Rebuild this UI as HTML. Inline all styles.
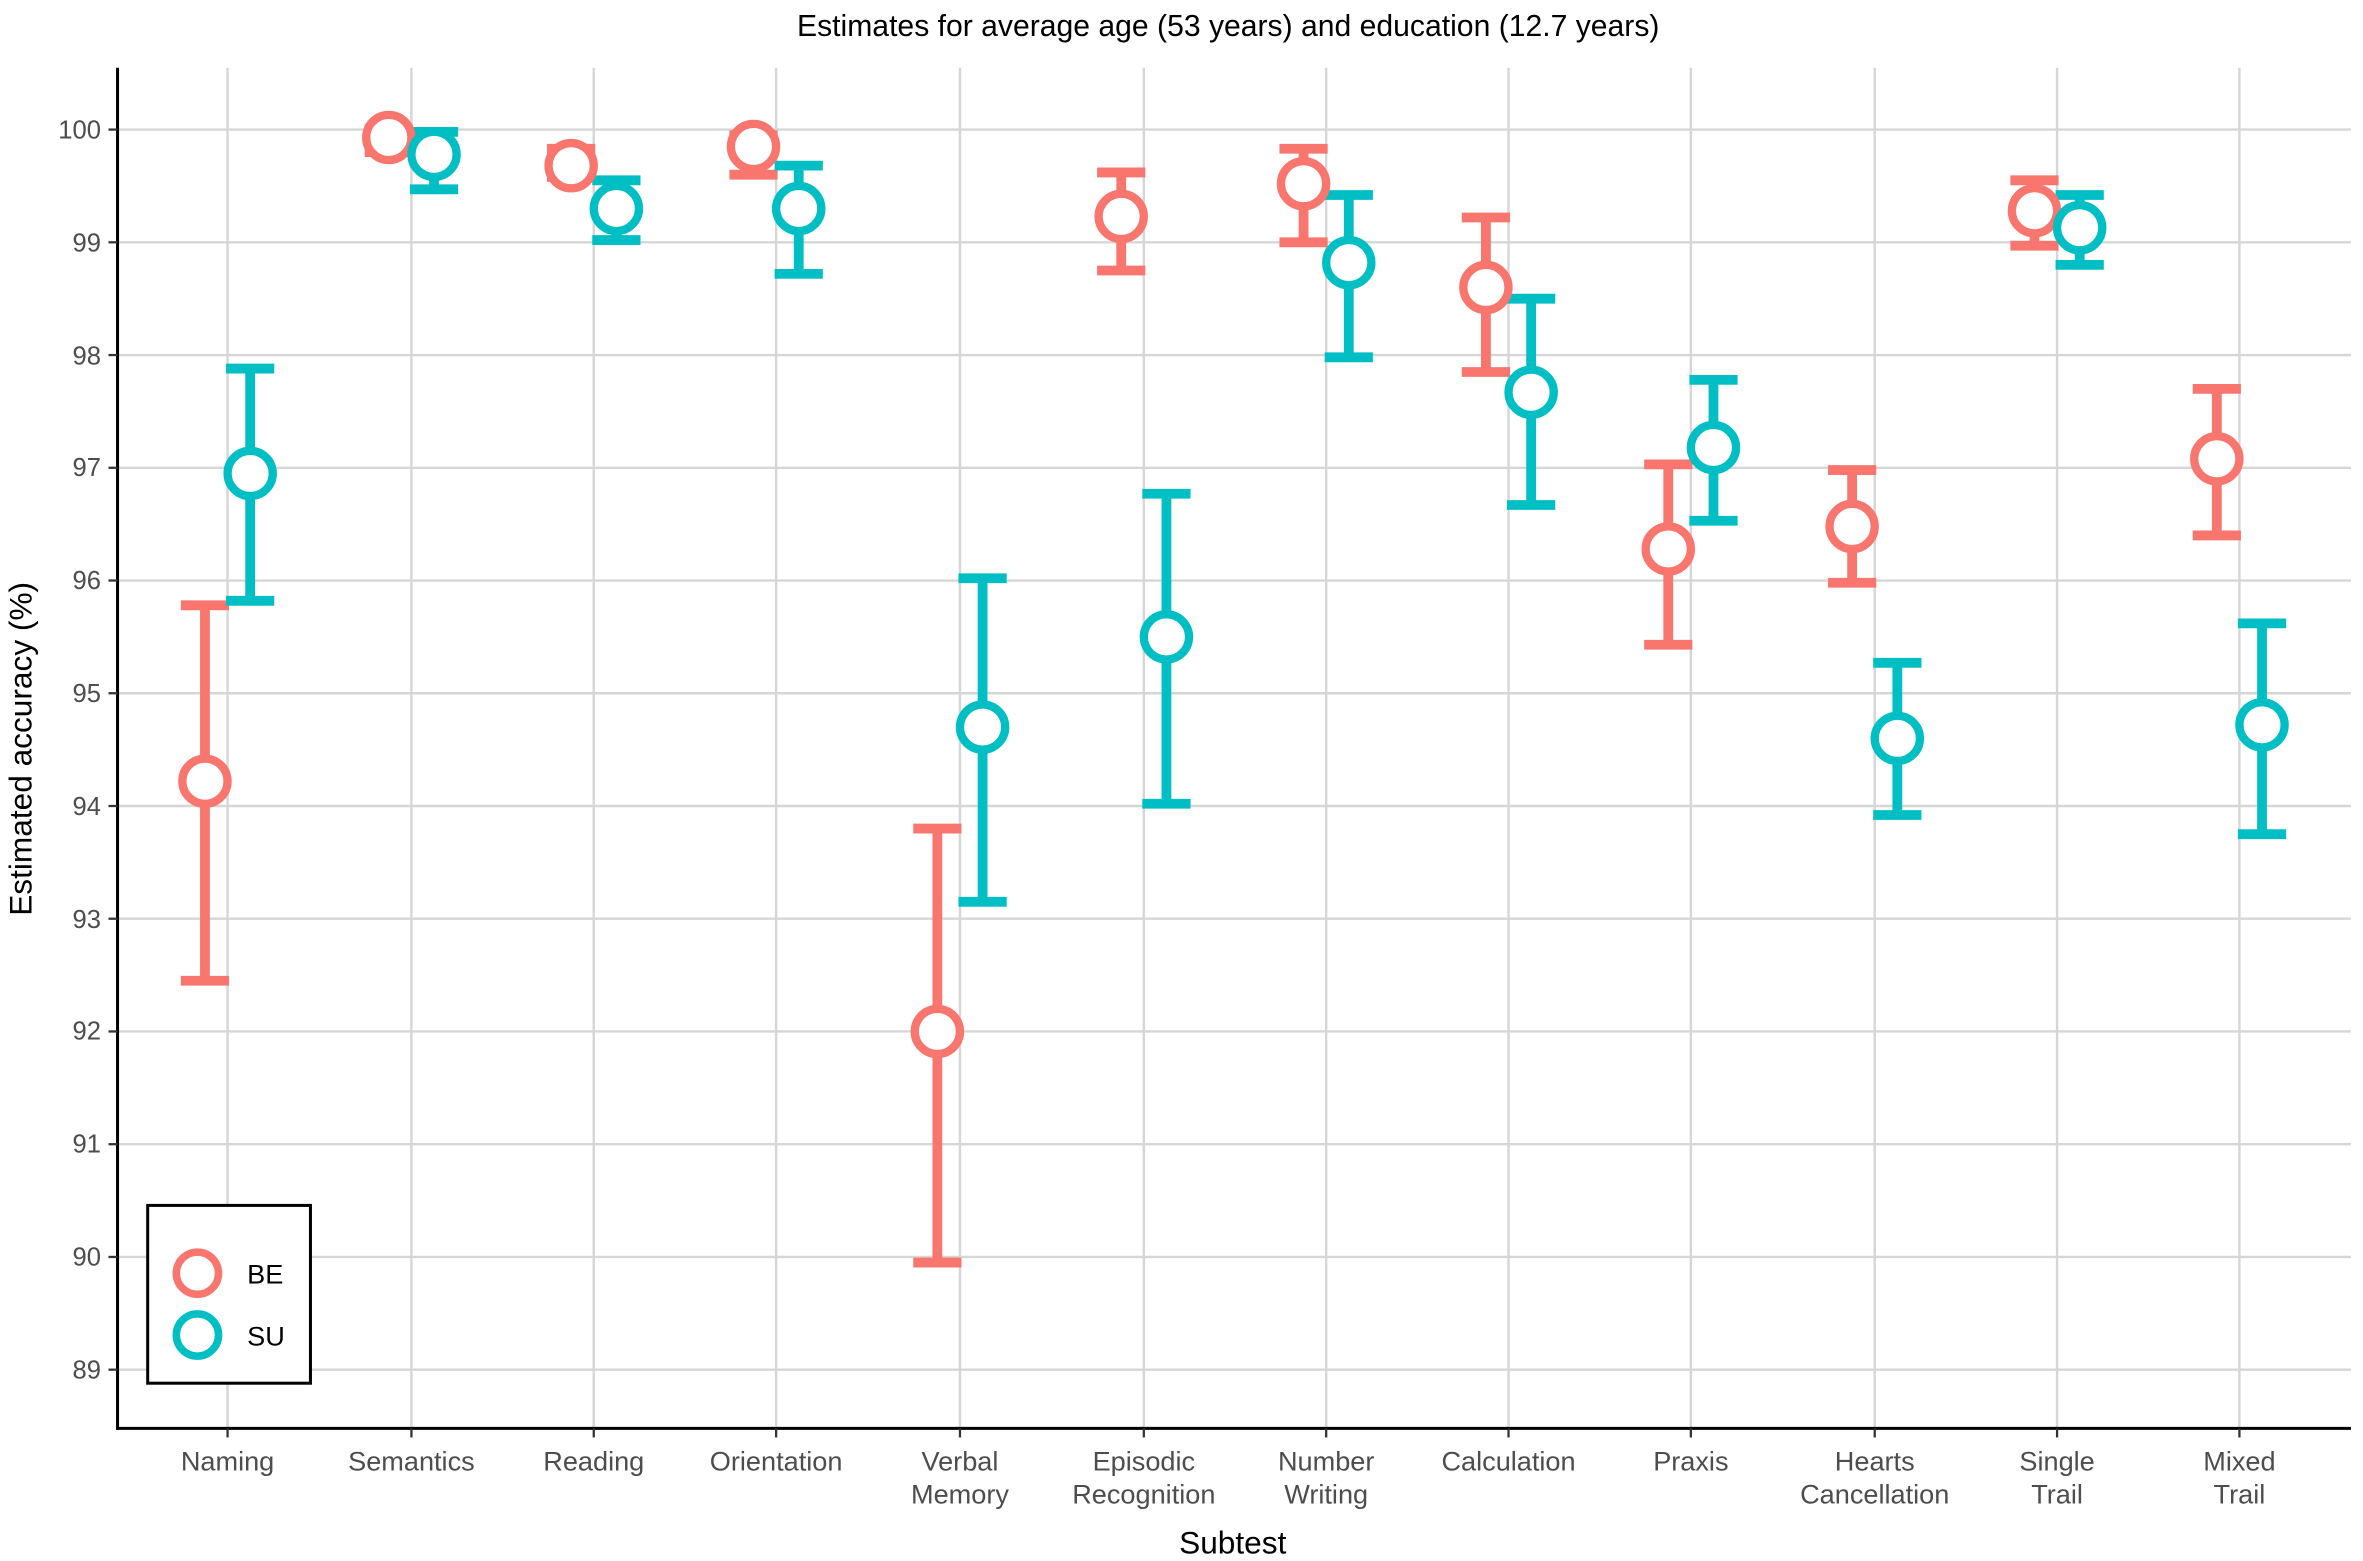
<!DOCTYPE html>
<html><head><meta charset="utf-8"><style>
html,body{margin:0;padding:0;background:#fff}
svg{display:block}
text{font-family:"Liberation Sans",Arial,sans-serif}
</style></head><body>
<svg id="s" width="2363" height="1561" viewBox="0 0 1568 1036" preserveAspectRatio="none" xmlns="http://www.w3.org/2000/svg">
<rect width="1568" height="1036" fill="#fff"/>
<g id="grid" stroke="#d6d6d6" stroke-width="1.6"></g>
<g id="data"></g>
<line x1="78" y1="45" x2="78" y2="949" stroke="#000" stroke-width="2"/>
<line x1="77" y1="948" x2="1560" y2="948" stroke="#000" stroke-width="2"/>
<g id="ticks" stroke="#333" stroke-width="1.5"></g>
<g font-size="17" fill="#4d4d4d" text-anchor="end">
<text x="67" y="92">100</text><text x="67" y="167">99</text><text x="67" y="242">98</text><text x="67" y="316">97</text><text x="67" y="391">96</text><text x="67" y="466">95</text><text x="67" y="541">94</text><text x="67" y="616">93</text><text x="67" y="690">92</text><text x="67" y="765">91</text><text x="67" y="840">90</text><text x="67" y="915">89</text>
</g>
<g font-size="18" fill="#4d4d4d" text-anchor="middle">
<text x="151" y="976">Naming</text>
<text x="273" y="976">Semantics</text>
<text x="394" y="976">Reading</text>
<text x="515" y="976">Orientation</text>
<text x="637" y="976">Verbal</text><text x="637" y="998">Memory</text>
<text x="759" y="976">Episodic</text><text x="759" y="998">Recognition</text>
<text x="880" y="976">Number</text><text x="880" y="998">Writing</text>
<text x="1001" y="976">Calculation</text>
<text x="1122" y="976">Praxis</text>
<text x="1244" y="976">Hearts</text><text x="1244" y="998">Cancellation</text>
<text x="1365" y="976">Single</text><text x="1365" y="998">Trail</text>
<text x="1486" y="976">Mixed</text><text x="1486" y="998">Trail</text>
</g>
<text x="815" y="24" font-size="20" text-anchor="middle" fill="#000">Estimates for average age (53 years) and education (12.7 years)</text>
<text x="818" y="1031" font-size="21" text-anchor="middle" fill="#000">Subtest</text>
<text transform="translate(21,497) rotate(-90)" font-size="21" text-anchor="middle" fill="#000">Estimated accuracy (%)</text>
<rect x="98" y="800" width="108" height="118" fill="#fff" stroke="#000" stroke-width="2"/>
<circle cx="131" cy="845" r="14" fill="#fff" stroke="#F8766D" stroke-width="5"/>
<circle cx="131" cy="886" r="14" fill="#fff" stroke="#00BFC4" stroke-width="5"/>
<text x="164" y="852" font-size="18" fill="#000">BE</text>
<text x="164" y="893" font-size="18" fill="#000">SU</text>
</svg>
<script>
const ns="http://www.w3.org/2000/svg";
function Y(v){return 86+(100-v)*74.82;}
function el(p,t,a){const e=document.createElementNS(ns,t);for(const k in a)e.setAttribute(k,a[k]);p.appendChild(e);return e;}
const xs=[151,273,394,515,637,759,880,1001,1122,1244,1365,1486];
const g=document.getElementById('grid'),tk=document.getElementById('ticks'),d=document.getElementById('data');
for(let v=89;v<=100;v++){el(g,'line',{x1:79,x2:1560,y1:Y(v),y2:Y(v)});el(tk,'line',{x1:72,x2:78,y1:Y(v),y2:Y(v)});}
xs.forEach(x=>{el(g,'line',{x1:x,x2:x,y1:45,y2:947});el(tk,'line',{x1:x,x2:x,y1:948,y2:954});});
const D=[
[94.22,92.45,95.78,96.95,95.82,97.88],
[99.93,99.8,100,99.78,99.47,99.98],
[99.68,99.58,99.83,99.3,99.02,99.55],
[99.85,99.6,99.95,99.3,98.72,99.68],
[92.0,89.95,93.8,94.7,93.15,96.02],
[99.23,98.75,99.62,95.5,94.02,96.77],
[99.52,99.0,99.83,98.82,97.98,99.42],
[98.6,97.85,99.22,97.67,96.67,98.5],
[96.28,95.43,97.03,97.18,96.53,97.78],
[96.48,95.98,96.98,94.6,93.92,95.27],
[99.28,98.97,99.55,99.13,98.8,99.42],
[97.08,96.4,97.7,94.72,93.75,95.62]];
const cols=["#F8766D","#00BFC4"];
D.forEach((r,i)=>{[0,1].forEach(k=>{const x=xs[i]+(k?15:-15),c=cols[k],lo=r[k*3+1],hi=r[k*3+2];
el(d,'line',{x1:x,x2:x,y1:Y(lo),y2:Y(hi),stroke:c,'stroke-width':6.5});
el(d,'line',{x1:x-16,x2:x+16,y1:Y(lo),y2:Y(lo),stroke:c,'stroke-width':6.5});
el(d,'line',{x1:x-16,x2:x+16,y1:Y(hi),y2:Y(hi),stroke:c,'stroke-width':6.5});
});});
D.forEach((r,i)=>{[0,1].forEach(k=>{const x=xs[i]+(k?15:-15);
el(d,'circle',{cx:x,cy:Y(r[k*3]),r:15,fill:'#fff',stroke:cols[k],'stroke-width':5.5});});});
</script>
</body></html>
